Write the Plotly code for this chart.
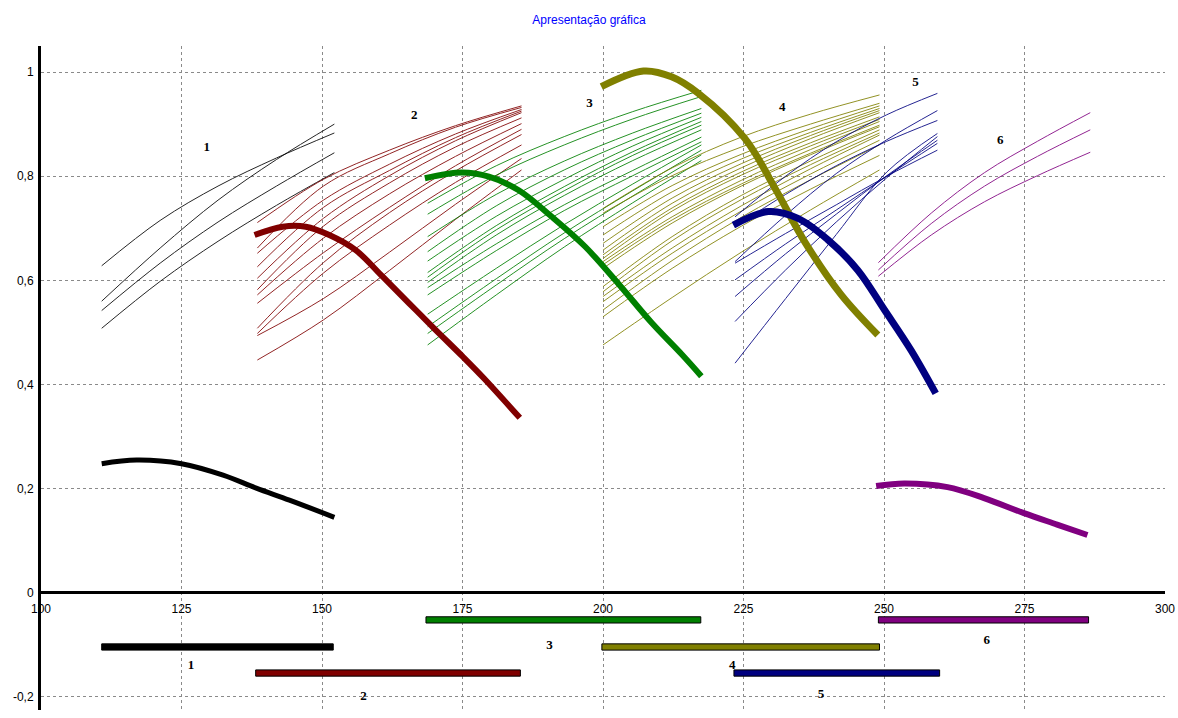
import plotly.graph_objects as go

# ---------------- data ----------------
title_text = "Apresentação gráfica"
group_names = ["1", "2", "3", "4", "5", "6"]
group_colors = ["#000000", "#800000", "#008000", "#808000", "#000080", "#800080"]

# thin curves (family of curves per group)
g1_thin_x = [110.8, 121.2, 131.5, 141.9, 152.2]
g1_thin_y = [
    [0.628, 0.715, 0.781, 0.835, 0.883],
    [0.560, 0.662, 0.754, 0.832, 0.900],
    [0.542, 0.633, 0.712, 0.781, 0.845],
    [0.508, 0.598, 0.675, 0.744, 0.807],
]

g2_thin_x = [138.5, 150.25, 162.0, 173.75, 185.5]
g2_thin_y = [
    [0.711, 0.794, 0.850, 0.897, 0.935],
    [0.662, 0.781, 0.843, 0.894, 0.932],
    [0.652, 0.754, 0.823, 0.881, 0.928],
    [0.626, 0.740, 0.811, 0.874, 0.925],
    [0.604, 0.719, 0.801, 0.868, 0.922],
    [0.582, 0.704, 0.787, 0.856, 0.912],
    [0.572, 0.681, 0.766, 0.838, 0.901],
    [0.556, 0.653, 0.740, 0.820, 0.890],
    [0.508, 0.634, 0.730, 0.810, 0.880],
    [0.498, 0.614, 0.706, 0.788, 0.860],
    [0.494, 0.565, 0.654, 0.746, 0.834],
    [0.447, 0.524, 0.619, 0.717, 0.812],
]

g3_thin_x = [168.8, 181.0, 193.1, 205.3, 217.5]
g3_thin_y = [
    [0.748, 0.820, 0.876, 0.924, 0.965],
    [0.727, 0.802, 0.860, 0.910, 0.953],
    [0.684, 0.765, 0.829, 0.883, 0.930],
    [0.655, 0.743, 0.812, 0.870, 0.921],
    [0.637, 0.723, 0.794, 0.858, 0.913],
    [0.615, 0.705, 0.780, 0.847, 0.905],
    [0.606, 0.697, 0.772, 0.840, 0.898],
    [0.596, 0.687, 0.763, 0.830, 0.889],
    [0.586, 0.670, 0.745, 0.811, 0.875],
    [0.572, 0.657, 0.734, 0.801, 0.866],
    [0.535, 0.623, 0.707, 0.785, 0.860],
    [0.511, 0.603, 0.691, 0.772, 0.850],
    [0.498, 0.591, 0.680, 0.762, 0.841],
    [0.476, 0.572, 0.664, 0.749, 0.830],
]

g4_thin_x = [200.0, 212.3, 224.6, 236.9, 249.2]
g4_thin_y = [
    [0.738, 0.816, 0.875, 0.919, 0.956],
    [0.729, 0.801, 0.856, 0.900, 0.940],
    [0.703, 0.782, 0.842, 0.891, 0.935],
    [0.687, 0.770, 0.833, 0.884, 0.930],
    [0.671, 0.758, 0.824, 0.878, 0.926],
    [0.658, 0.748, 0.816, 0.872, 0.922],
    [0.649, 0.739, 0.808, 0.864, 0.914],
    [0.642, 0.733, 0.802, 0.858, 0.909],
    [0.636, 0.722, 0.792, 0.851, 0.905],
    [0.630, 0.716, 0.785, 0.844, 0.898],
    [0.623, 0.710, 0.781, 0.841, 0.895],
    [0.588, 0.684, 0.763, 0.829, 0.889],
    [0.578, 0.676, 0.755, 0.822, 0.883],
    [0.569, 0.662, 0.743, 0.814, 0.879],
    [0.559, 0.652, 0.733, 0.804, 0.869],
    [0.543, 0.638, 0.721, 0.793, 0.860],
    [0.530, 0.623, 0.704, 0.775, 0.840],
    [0.476, 0.567, 0.654, 0.735, 0.812],
]

g5_thin_x = [223.5, 232.5, 241.5, 250.5, 259.5]
g5_thin_y = [
    [0.722, 0.800, 0.866, 0.918, 0.959],
    [0.703, 0.765, 0.820, 0.867, 0.907],
    [0.636, 0.725, 0.805, 0.870, 0.926],
    [0.633, 0.690, 0.745, 0.800, 0.850],
    [0.601, 0.670, 0.735, 0.800, 0.863],
    [0.569, 0.651, 0.727, 0.801, 0.869],
    [0.521, 0.620, 0.712, 0.797, 0.876],
    [0.441, 0.565, 0.688, 0.808, 0.882],
]

g6_thin_x = [249.0, 258.4, 267.9, 277.3, 286.7]
g6_thin_y = [
    [0.634, 0.729, 0.807, 0.867, 0.922],
    [0.620, 0.709, 0.781, 0.838, 0.889],
    [0.608, 0.687, 0.751, 0.801, 0.846],
]

# thick curves (one per group)
g1_thick_x = [110.8, 117.0, 125.0, 132.4, 138.3, 144.2, 152.2]
g1_thick_y = [0.248, 0.255, 0.248, 0.226, 0.201, 0.178, 0.145]
g2_thick_x = [138.0, 143.0, 147.1, 151.3, 156.0, 160.8, 165.5, 170.2, 175.0, 178.8, 185.2]
g2_thick_y = [0.687, 0.703, 0.703, 0.687, 0.658, 0.607, 0.556, 0.505, 0.454, 0.412, 0.336]
g3_thick_x = [168.3, 174.9, 179.7, 185.0, 190.9, 196.8, 202.7, 208.7, 214.0, 217.5]
g3_thick_y = [0.796, 0.807, 0.799, 0.773, 0.722, 0.665, 0.594, 0.518, 0.458, 0.416]
g4_thick_x = [199.7, 207.2, 212.2, 217.0, 225.2, 230.6, 235.9, 242.4, 248.9]
g4_thick_y = [0.972, 1.002, 0.991, 0.959, 0.873, 0.777, 0.674, 0.572, 0.495]
g5_thick_x = [223.2, 229.4, 234.7, 240.0, 245.3, 250.1, 254.8, 259.2]
g5_thick_y = [0.706, 0.732, 0.719, 0.678, 0.620, 0.543, 0.466, 0.383]
g6_thick_x = [248.6, 253.6, 261.3, 267.8, 274.9, 280.8, 286.2]
g6_thick_y = [0.205, 0.210, 0.203, 0.182, 0.153, 0.131, 0.111]

# range bars below the axis
bar_start = [110.8, 138.2, 168.5, 199.8, 223.3, 249.0]
bar_end = [152.0, 185.3, 217.4, 249.2, 259.9, 286.4]
bar_level = [-0.104, -0.154, -0.052, -0.104, -0.154, -0.052]

# group labels
label_top_x = [129.5, 166.4, 197.6, 231.9, 255.6, 270.7]
label_top_y = [0.854, 0.916, 0.939, 0.931, 0.979, 0.868]
label_bot_x = [126.7, 157.4, 190.5, 223.0, 238.8, 268.3]
label_bot_y = [-0.140, -0.200, -0.102, -0.140, -0.196, -0.092]

x_ticks = [100, 125, 150, 175, 200, 225, 250, 275, 300]
x_tick_text = ["100", "125", "150", "175", "200", "225", "250", "275", "300"]
y_ticks = [-0.2, 0.0, 0.2, 0.4, 0.6, 0.8, 1.0]
y_tick_text = ["-0,2", "0", "0,2", "0,4", "0,6", "0,8", "1"]

# ---------------- figure ----------------
thin_x = [g1_thin_x, g2_thin_x, g3_thin_x, g4_thin_x, g5_thin_x, g6_thin_x]
thin_y = [g1_thin_y, g2_thin_y, g3_thin_y, g4_thin_y, g5_thin_y, g6_thin_y]
thick_x = [g1_thick_x, g2_thick_x, g3_thick_x, g4_thick_x, g5_thick_x, g6_thick_x]
thick_y = [g1_thick_y, g2_thick_y, g3_thick_y, g4_thick_y, g5_thick_y, g6_thick_y]
thick_w = [5, 6, 6, 7, 7, 6]

fig = go.Figure()

for gi in range(6):
    for ys in thin_y[gi]:
        fig.add_trace(go.Scatter(
            x=thin_x[gi], y=ys, mode="lines",
            line=dict(color=group_colors[gi], width=1, shape="spline"),
            opacity=0.85, hoverinfo="skip", showlegend=False))

for gi in range(6):
    fig.add_trace(go.Scatter(
        x=thick_x[gi], y=thick_y[gi], mode="lines",
        line=dict(color=group_colors[gi], width=thick_w[gi], shape="spline"),
        hoverinfo="skip", showlegend=False))

for gi in range(6):
    fig.add_trace(go.Bar(
        y=[bar_level[gi]], x=[bar_end[gi] - bar_start[gi]], base=[bar_start[gi]],
        orientation="h", width=0.012,
        marker=dict(color=group_colors[gi], line=dict(color="#000000", width=1)),
        hoverinfo="skip", showlegend=False))

label_font = dict(family="Liberation Serif", size=13, color="#000000", weight="bold")
fig.add_trace(go.Scatter(
    x=label_top_x, y=label_top_y, mode="text", text=group_names,
    textfont=label_font, hoverinfo="skip", showlegend=False))
fig.add_trace(go.Scatter(
    x=label_bot_x, y=label_bot_y, mode="text", text=group_names,
    textfont=label_font, hoverinfo="skip", showlegend=False))

y_min, y_max = -0.225, 1.05
grid_style = dict(showgrid=True, gridcolor="#8a8a8a", gridwidth=1, griddash="3px,3px")

fig.update_layout(
    width=1178, height=718,
    margin=dict(l=41, r=13, t=46, b=8, autoexpand=False),
    paper_bgcolor="#ffffff", plot_bgcolor="#ffffff",
    barmode="overlay",
    separators=",.",
    title=dict(text=title_text, x=0.5, xref="container", xanchor="center",
               y=1 - 20 / 718, yref="container", yanchor="middle",
               font=dict(family="Liberation Sans", size=12, color="#0000ff")),
    font=dict(family="Liberation Sans", size=12, color="#000000"),
    xaxis=dict(range=[100, 300], tickmode="array", tickvals=x_ticks, ticktext=x_tick_text,
               zeroline=False, showline=False, anchor="free",
               position=(0 - y_min) / (y_max - y_min),
               ticks="outside", ticklen=5, tickcolor="rgba(0,0,0,0)",
               ticklabeloverflow="allow",
               tickfont=dict(family="Liberation Sans", size=12, color="#000000"),
               **grid_style),
    yaxis=dict(range=[y_min, y_max], tickmode="array", tickvals=y_ticks, ticktext=y_tick_text,
               zeroline=True, zerolinecolor="#000000", zerolinewidth=3,
               showline=True, linecolor="#000000", linewidth=3,
               ticks="outside", ticklen=2, tickcolor="rgba(0,0,0,0)",
               tickfont=dict(family="Liberation Sans", size=12, color="#000000"),
               **grid_style),
)

# remove the default 8px page margin so the figure fills the window exactly
fig.write_html("out.html",
               config={"displayModeBar": False},
               post_script="document.body.style.margin='0px';document.body.style.overflow='hidden';")
